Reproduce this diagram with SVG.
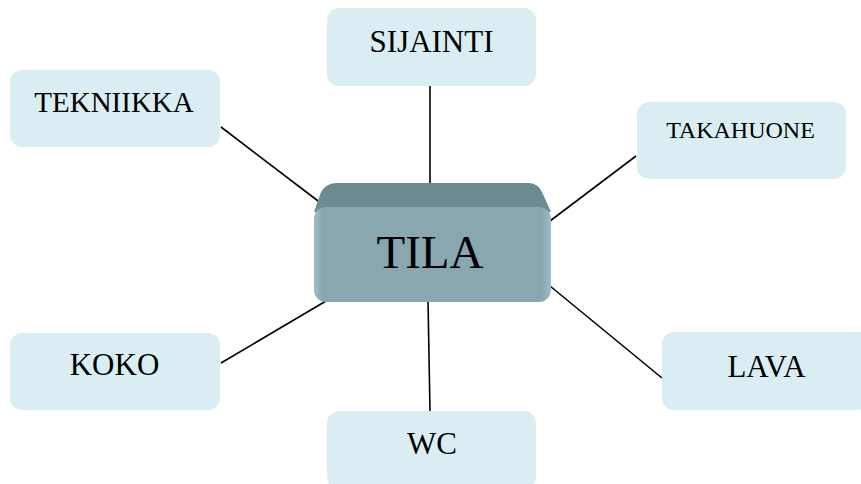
<svg xmlns="http://www.w3.org/2000/svg" width="861" height="484" viewBox="0 0 861 484">
<style>
.node rect{fill:#daedf3}
.lbl{font-family:"Liberation Serif","Times New Roman",serif;fill:#000;text-anchor:middle}
.conn line{stroke:#000;stroke-width:1.6}
</style>
<defs>
<linearGradient id="face" x1="0" y1="0" x2="1" y2="0">
<stop offset="0" stop-color="#9dbcc3"/>
<stop offset="0.04" stop-color="#88a7b0"/>
<stop offset="0.96" stop-color="#88a7b0"/>
<stop offset="1" stop-color="#9dbcc3"/>
</linearGradient>
<linearGradient id="top" x1="0" y1="0" x2="0" y2="1">
<stop offset="0" stop-color="#6b8a90"/>
<stop offset="1" stop-color="#6f8e94"/>
</linearGradient>
</defs>
<rect width="861" height="484" fill="#fff"/>
<g class="conn">
<line x1="430" y1="86" x2="430" y2="185"/>
<line x1="221" y1="127" x2="326" y2="207"/>
<line x1="636" y1="156" x2="550" y2="221"/>
<line x1="550" y1="286" x2="662" y2="378"/>
<line x1="221" y1="363" x2="326" y2="301"/>
<line x1="428" y1="300" x2="430" y2="411"/>
</g>
<g id="sijainti" class="node"><rect x="327" y="8" width="209" height="78" rx="12"/><text class="lbl" x="431.5" y="52" font-size="31">SIJAINTI</text></g>
<g id="tekniikka" class="node"><rect x="10" y="70" width="210" height="77" rx="12"/><text class="lbl" x="114" y="112" font-size="29">TEKNIIKKA</text></g>
<g id="takahuone" class="node"><rect x="637" y="102" width="209" height="77" rx="12"/><text class="lbl" x="740.5" y="138" font-size="24">TAKAHUONE</text></g>
<g id="koko" class="node"><rect x="10" y="333" width="210" height="77" rx="12"/><text class="lbl" x="114.5" y="375" font-size="31">KOKO</text></g>
<g id="lava" class="node"><rect x="662" y="332" width="209" height="78" rx="12"/><text class="lbl" x="766.5" y="377" font-size="31">LAVA</text></g>
<g id="wc" class="node"><rect x="327" y="411" width="209" height="78" rx="12"/><text class="lbl" x="432" y="454" font-size="31">WC</text></g>
<g id="tila">
<path d="M337 183 H528 Q538 183 542 192 L551 212 L314 212 L321 192 Q326 183 337 183 Z" fill="url(#top)"/>
<rect x="314" y="207" width="237" height="95" rx="12" fill="url(#face)"/>
<text class="lbl" x="430" y="268" font-size="47">TILA</text>
</g>
</svg>
